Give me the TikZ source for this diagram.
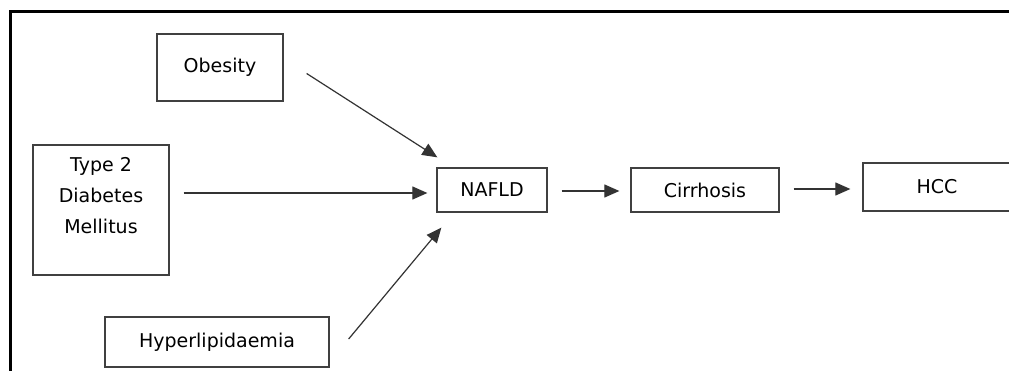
\documentclass[tikz,border=0pt]{standalone}
\usepackage{fontspec}
\setmainfont{DejaVu Sans}
\usetikzlibrary{arrows.meta,calc}
\begin{document}
\begin{tikzpicture}[x=1pt,y=-1pt,
  box/.style={draw=black!75,line width=1.3pt,rectangle,inner sep=0pt,
    font=\fontsize{19pt}{31pt}\selectfont},
  arr/.style={draw=black!80,line width=1.2pt,-{Triangle[length=15pt,width=13pt]}},
]
\useasboundingbox (0,0) rectangle (1009,371);
\fill[white] (0,0) rectangle (1009,371);
% frame
\draw[line width=3pt,black] (1009,12) -- (10,12) -- (10,372);
% boxes
\node[box,minimum width=126pt,minimum height=67pt] (obesity) at (220,67.5) {Obesity};
\node[box,minimum width=136pt,minimum height=130pt] (t2dm) at (101,210) {};
\node[align=center,inner sep=0pt,font=\fontsize{19pt}{31pt}\selectfont] (t2dmtext) at (101,196) {Type 2\\Diabetes\\Mellitus};
\node[box,minimum width=224pt,minimum height=50pt] (hyper) at (217,342) {Hyperlipidaemia};
\node[box,minimum width=110pt,minimum height=44pt] (nafld) at (492,190) {NAFLD};
\node[box,minimum width=148pt,minimum height=44pt] (cirrhosis) at (705,190) {Cirrhosis};
\node[box,minimum width=148pt,minimum height=48pt] (hcc) at (937,187) {HCC};
% arrows
\draw[arr] ($(obesity.east)+(23,6)$) -- ($(nafld.north west)+(1,-10)$);
\draw[arr] ($(t2dm.east)+(14,-17)$) -- ($(nafld.west)+(-9,3)$);
\draw[arr] ($(hyper.east)+(19,-3)$) -- ($(nafld.south west)+(5,15)$);
\draw[arr] ($(nafld.east)+(14,1)$) -- ($(cirrhosis.west)+(-11,1)$);
\draw[arr] ($(cirrhosis.east)+(14,-1)$) -- ($(hcc.west)+(-12,2)$);
\end{tikzpicture}
\end{document}
